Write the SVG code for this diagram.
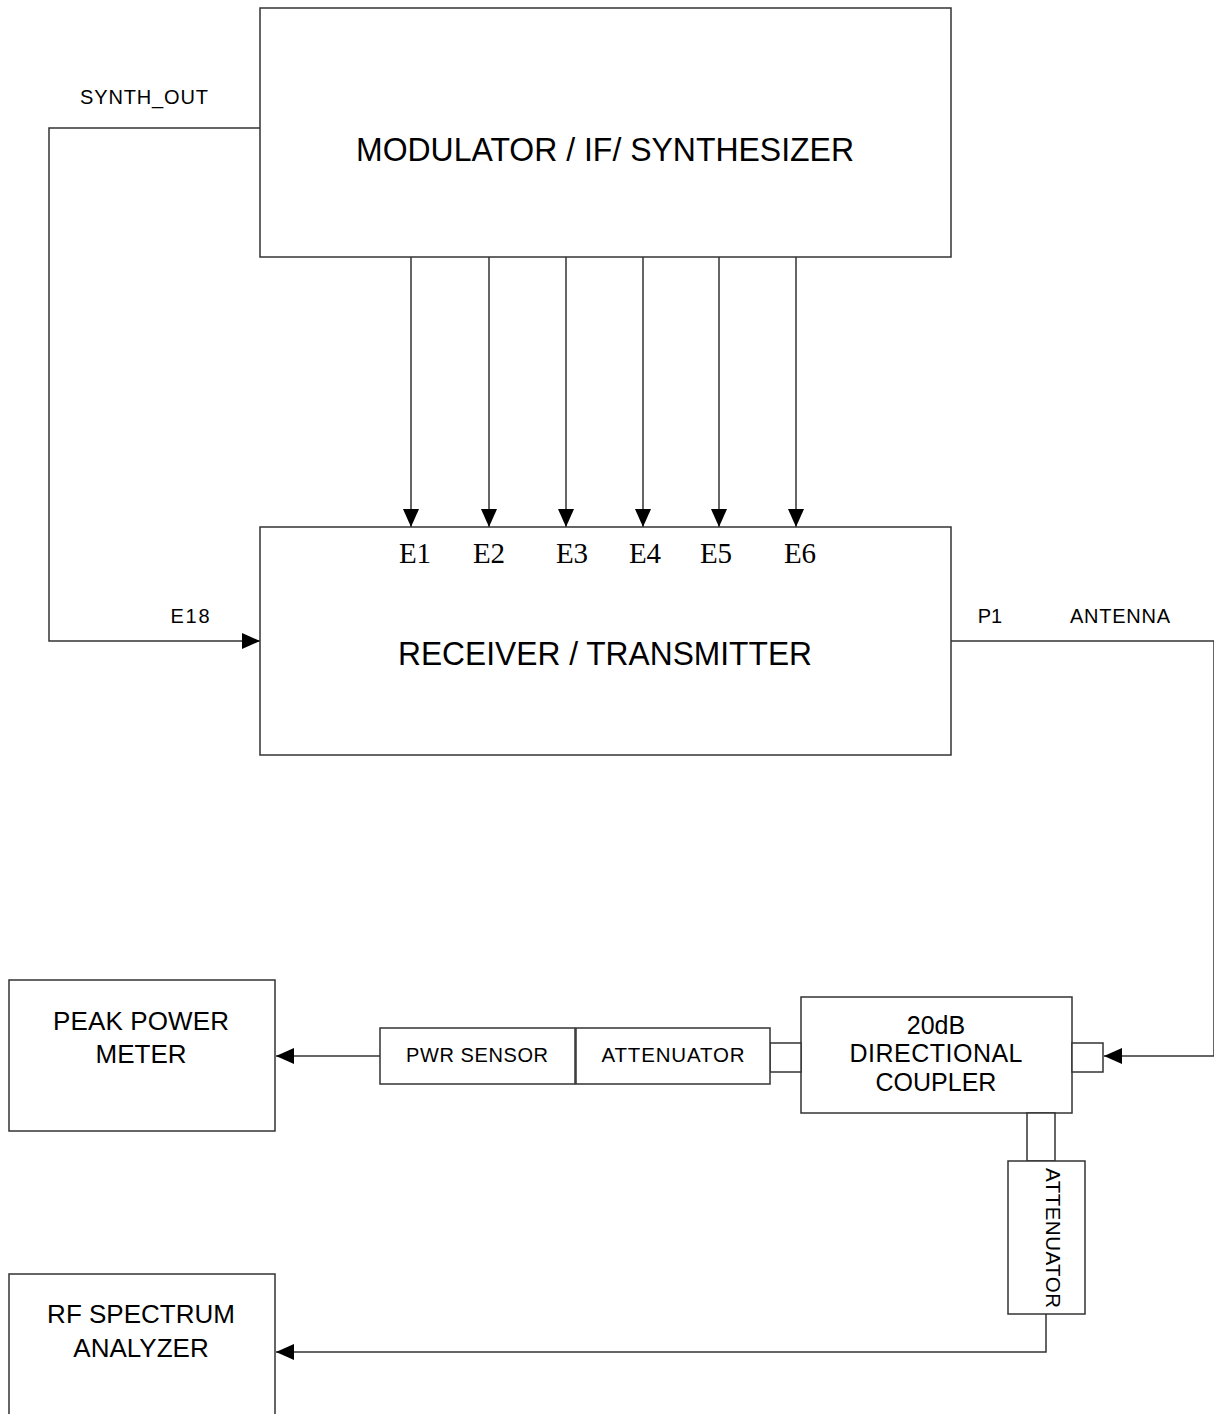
<svg xmlns="http://www.w3.org/2000/svg" width="1214" height="1414" viewBox="0 0 1214 1414">
<defs>
<style>
.box{fill:#fff;stroke:#333;stroke-width:1.5}
.ln{fill:none;stroke:#333;stroke-width:1.5}
.t{font-family:"Liberation Sans",Arial,sans-serif;fill:#000;text-anchor:middle}
.s{font-family:"Liberation Serif","Times New Roman",serif;fill:#000;text-anchor:middle;font-size:29px}
</style>
<marker id="ah" viewBox="0 0 18 16" refX="18" refY="8" markerWidth="18" markerHeight="16" markerUnits="userSpaceOnUse" orient="auto">
<path d="M0,0 L18,8 L0,16 Z" fill="#000"/>
</marker>
</defs>
<rect width="1214" height="1414" fill="#fff"/>
<g id="connectors">
<path class="ln" d="M260,128 H49 V641 H260" marker-end="url(#ah)"/>
<path class="ln" d="M411,257 V527" marker-end="url(#ah)"/>
<path class="ln" d="M489,257 V527" marker-end="url(#ah)"/>
<path class="ln" d="M566,257 V527" marker-end="url(#ah)"/>
<path class="ln" d="M643,257 V527" marker-end="url(#ah)"/>
<path class="ln" d="M719,257 V527" marker-end="url(#ah)"/>
<path class="ln" d="M796,257 V527" marker-end="url(#ah)"/>
<path class="ln" d="M951,641 H1214 V1056 H1104" marker-end="url(#ah)"/>
<path class="ln" d="M380,1056 H276" marker-end="url(#ah)"/>
<path class="ln" d="M1046,1314 V1352 H276" marker-end="url(#ah)"/>
</g>
<g id="modulator">
<rect class="box" x="260" y="8" width="691" height="249"/>
<text class="t" x="605" y="161" font-size="34" textLength="498" lengthAdjust="spacingAndGlyphs">MODULATOR / IF/ SYNTHESIZER</text>
</g>
<g id="receiver">
<rect class="box" x="260" y="527" width="691" height="228"/>
<text class="t" x="605" y="665" font-size="34" textLength="414" lengthAdjust="spacingAndGlyphs">RECEIVER / TRANSMITTER</text>
<text class="s" x="415" y="563">E1</text>
<text class="s" x="489" y="563">E2</text>
<text class="s" x="572" y="563">E3</text>
<text class="s" x="645" y="563">E4</text>
<text class="s" x="716" y="563">E5</text>
<text class="s" x="800" y="563">E6</text>
</g>
<g id="labels">
<text class="t" x="144" y="104" font-size="20" textLength="128">SYNTH_OUT</text>
<text class="t" x="190" y="623" font-size="20" textLength="39">E18</text>
<text class="t" x="990" y="623" font-size="20">P1</text>
<text class="t" x="1120" y="623" font-size="20" textLength="100">ANTENNA</text>
</g>
<g id="coupler">
<rect class="box" x="801" y="997" width="271" height="116"/>
<text class="t" x="936" y="1034" font-size="25">20dB</text>
<text class="t" x="936" y="1062" font-size="25" textLength="173">DIRECTIONAL</text>
<text class="t" x="936" y="1091" font-size="25">COUPLER</text>
<rect class="box" x="770" y="1043" width="31" height="29"/>
<rect class="box" x="1072" y="1043" width="31" height="29"/>
<rect class="box" x="1027" y="1113" width="28" height="48"/>
</g>
<g id="pwr-sensor">
<rect class="box" x="380" y="1028" width="195" height="56"/>
<text class="t" x="477" y="1062" font-size="20" textLength="142">PWR SENSOR</text>
</g>
<g id="attenuator-h">
<rect class="box" x="576" y="1028" width="194" height="56"/>
<text class="t" x="673" y="1062" font-size="20.5" textLength="143">ATTENUATOR</text>
</g>
<g id="attenuator-v">
<rect class="box" x="1008" y="1161" width="77" height="153"/>
<text class="t" transform="translate(1046,1238) rotate(90)" x="0" y="0" font-size="20.5" textLength="140">ATTENUATOR</text>
</g>
<g id="peak-power-meter">
<rect class="box" x="9" y="980" width="266" height="151"/>
<text class="t" x="141" y="1030" font-size="26" textLength="176">PEAK POWER</text>
<text class="t" x="141" y="1063" font-size="26">METER</text>
</g>
<g id="spectrum-analyzer">
<rect class="box" x="9" y="1274" width="266" height="160"/>
<text class="t" x="141" y="1323" font-size="26">RF SPECTRUM</text>
<text class="t" x="141" y="1357" font-size="26">ANALYZER</text>
</g>
</svg>
